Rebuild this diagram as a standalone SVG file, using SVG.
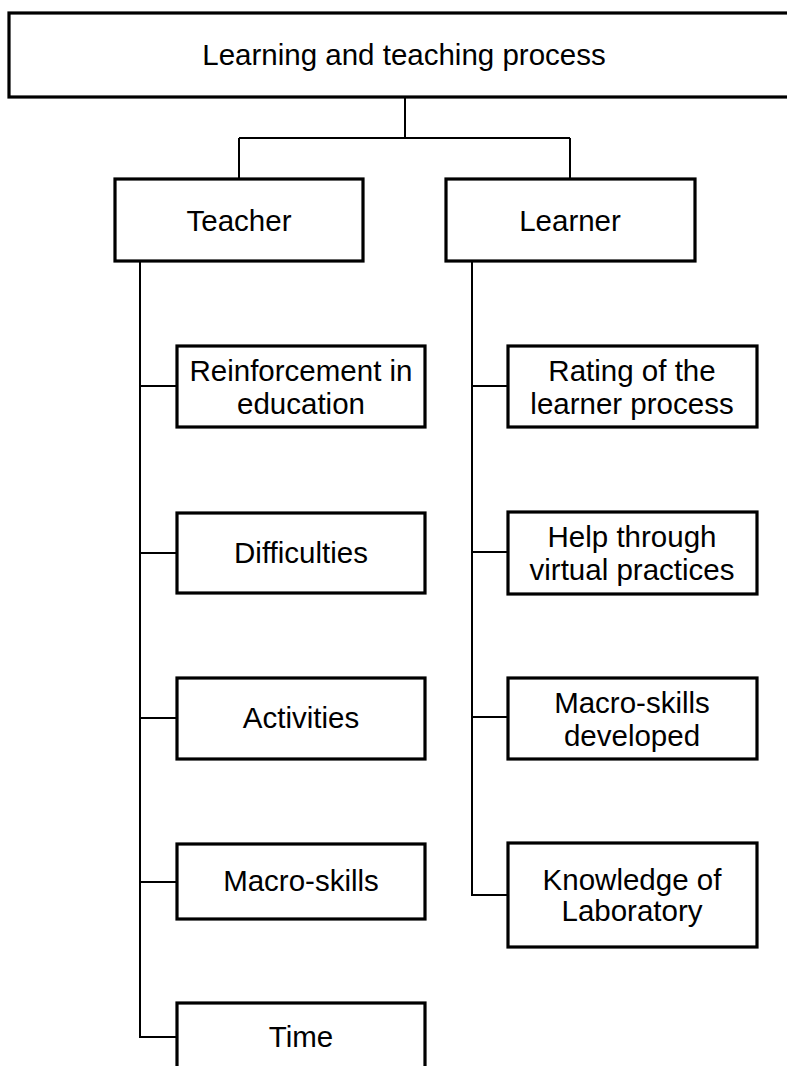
<svg xmlns="http://www.w3.org/2000/svg" width="787" height="1066" viewBox="0 0 787 1066">
<style>
.box{fill:#fff;stroke:#000;stroke-width:3.2}
.lbl{font-family:"Liberation Sans",Arial,sans-serif;font-size:29.5px;fill:#000;text-anchor:middle}
.con{fill:none;stroke:#000;stroke-width:2}
</style>
<rect width="787" height="1066" fill="#fff"/>
<g id="connectors">
<path class="con" d="M405 97V138M239 138H570M239 138V179M570 138V179"/>
<path class="con" d="M140 261V1037H177M140 386H177M140 553H177M140 718H177M140 882H177"/>
<path class="con" d="M472 261V895H508M472 386H508M472 552H508M472 717H508"/>
</g>
<g id="root"><rect class="box" x="9" y="13" width="800" height="84"/><text class="lbl" x="404" y="65">Learning and teaching process</text></g>
<g id="teacher"><rect class="box" x="115" y="179" width="248" height="82"/><text class="lbl" x="239" y="231">Teacher</text></g>
<g id="learner"><rect class="box" x="446" y="179" width="249" height="82"/><text class="lbl" x="570" y="231">Learner</text></g>
<g id="reinforcement"><rect class="box" x="177" y="346" width="248" height="81"/><text class="lbl" x="301" y="381">Reinforcement in</text><text class="lbl" x="301" y="414">education</text></g>
<g id="difficulties"><rect class="box" x="177" y="513" width="248" height="80"/><text class="lbl" x="301" y="563">Difficulties</text></g>
<g id="activities"><rect class="box" x="177" y="678" width="248" height="81"/><text class="lbl" x="301" y="728">Activities</text></g>
<g id="macro-skills"><rect class="box" x="177" y="844" width="248" height="75"/><text class="lbl" x="301" y="891">Macro-skills</text></g>
<g id="time"><rect class="box" x="177" y="1003" width="248" height="100"/><text class="lbl" x="301" y="1047">Time</text></g>
<g id="rating"><rect class="box" x="508" y="346" width="249" height="81"/><text class="lbl" x="632" y="381">Rating of the</text><text class="lbl" x="632" y="414">learner process</text></g>
<g id="help"><rect class="box" x="508" y="512" width="249" height="82"/><text class="lbl" x="632" y="547">Help through</text><text class="lbl" x="632" y="580">virtual practices</text></g>
<g id="macro-developed"><rect class="box" x="508" y="678" width="249" height="81"/><text class="lbl" x="632" y="713">Macro-skills</text><text class="lbl" x="632" y="746">developed</text></g>
<g id="knowledge"><rect class="box" x="508" y="843" width="249" height="104"/><text class="lbl" x="632" y="890">Knowledge of</text><text class="lbl" x="632" y="921">Laboratory</text></g>
</svg>
